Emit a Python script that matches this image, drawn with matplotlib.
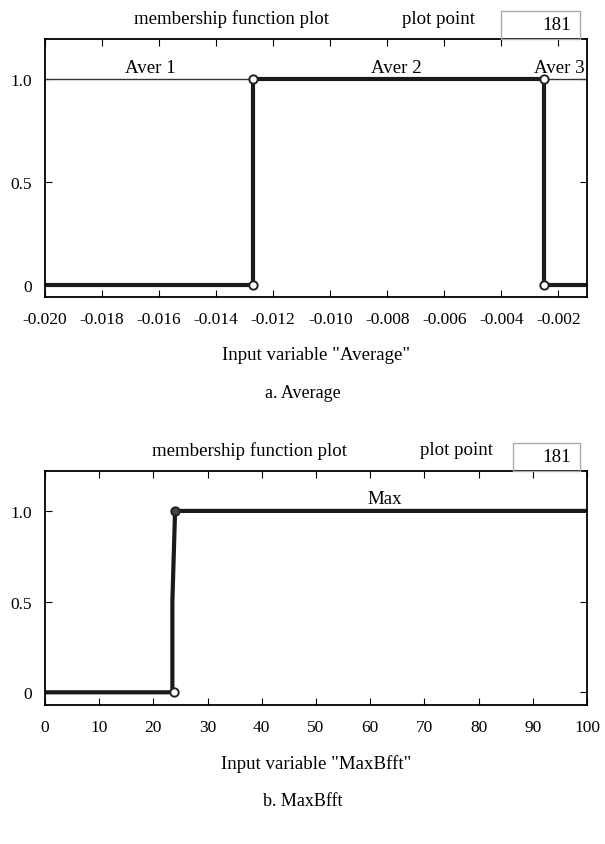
import matplotlib.pyplot as plt
from matplotlib.patches import Rectangle

plt.rcParams['font.family'] = ['Liberation Serif', 'DejaVu Serif']
plt.rcParams['font.size'] = 12.5

# panel a: "Average"
avg_xlim = (-0.020, -0.001)
avg_ticks = [-0.020, -0.018, -0.016, -0.014, -0.012, -0.010, -0.008, -0.006, -0.004, -0.002]
avg_break1 = -0.0127
avg_break2 = -0.0025
aver1_x = [-0.020, avg_break1, avg_break1]
aver1_y = [1, 1, 0]
aver2_x = [-0.020, avg_break1, avg_break1, avg_break2, avg_break2, -0.001]
aver2_y = [0, 0, 1, 1, 0, 0]
aver3_x = [avg_break2, avg_break2, -0.001]
aver3_y = [0, 1, 1]
avg_names = ['Aver 1', 'Aver 2', 'Aver 3']
avg_name_x = [-0.0163, -0.0077, -0.00196]

# panel b: "MaxBfft"
max_xlim = (0, 100)
max_ticks = [0, 10, 20, 30, 40, 50, 60, 70, 80, 90, 100]
max_x = [0, 23.5, 23.5, 24, 100]
max_y = [0, 0, 0.5, 1, 1]

plot_point = 181

fig = plt.figure(figsize=(6.05, 8.45), dpi=100)
W, H = 605, 845


def panel(top, bottom, ylim, box_x0, box_x1, title_x, pp_x):
    ax = fig.add_axes([45 / W, 1 - bottom / H, (587 - 45) / W, (bottom - top) / H])
    ax.set_ylim(*ylim)
    ax.set_yticks([0, 0.5, 1.0])
    ax.set_yticklabels(['0', '0.5', '1.0'])
    ax.tick_params(axis='x', direction='in', top=True, length=5, pad=10, labelsize=12.5)
    ax.tick_params(axis='y', direction='in', right=True, length=5, pad=9.5, labelsize=12.5)
    for s in ax.spines.values():
        s.set_linewidth(1.3)
    # header texts
    fig.text(title_x / W, 1 - (top - 21) / H, 'membership function plot',
             ha='center', va='center', fontsize=13.6)
    fig.text(pp_x / W, 1 - (top - 21) / H, 'plot point', ha='center', va='center', fontsize=13.6)
    fig.patches.append(Rectangle((box_x0 / W, 1 - top / H), (box_x1 - box_x0) / W, 28 / H,
                                 transform=fig.transFigure, fill=False, edgecolor='#aaaaaa', lw=1.0))
    fig.text((box_x1 - 9) / W, 1 - (top - 14) / H, str(plot_point), ha='right', va='center',
             fontsize=13.6)
    return ax


# panel a
ax1 = panel(40, 298, (-0.058, 1.194), 501, 580, 232, 439)
ax1.set_xlim(*avg_xlim)
ax1.set_xticks(avg_ticks)
ax1.set_xticklabels(['%.3f' % t for t in avg_ticks])
ax1.plot(aver1_x, aver1_y, color='#333333', lw=1.0)
ax1.plot(aver3_x, aver3_y, color='#333333', lw=1.0)
ax1.plot(aver2_x, aver2_y, color='#1a1a1a', lw=3.0, solid_joinstyle='miter')
ax1.plot([avg_break1, avg_break1, avg_break2, avg_break2], [0, 1, 1, 0], 'o', ms=6,
         mfc='white', mec='#222222', mew=1.4)
for name, nx in zip(avg_names, avg_name_x):
    ax1.text(nx, 1.058, name, ha='center', va='center', fontsize=13.6)
ax1.set_xlabel('Input variable "Average"', labelpad=14, fontsize=13.6)
fig.text(0.5, 1 - 394 / H, 'a. Average', ha='center', va='center', fontsize=13)

# panel b
ax2 = panel(472, 706, (-0.07, 1.22), 513, 580, 250, 456)
ax2.set_xlim(*max_xlim)
ax2.set_xticks(max_ticks)
ax2.plot(max_x, max_y, color='#1a1a1a', lw=3.0)
ax2.plot([23.8], [0], 'o', ms=6, mfc='white', mec='#222222', mew=1.4)
ax2.plot([24], [1], 'o', ms=6, mfc='#444444', mec='#222222', mew=1.4)
ax2.text(62.6, 1.066, 'Max', ha='center', va='center', fontsize=13.6)
ax2.set_xlabel('Input variable "MaxBfft"', labelpad=14, fontsize=13.6)
fig.text(0.5, 1 - 802 / H, 'b. MaxBfft', ha='center', va='center', fontsize=13)

fig.savefig('out.png', dpi=100)
